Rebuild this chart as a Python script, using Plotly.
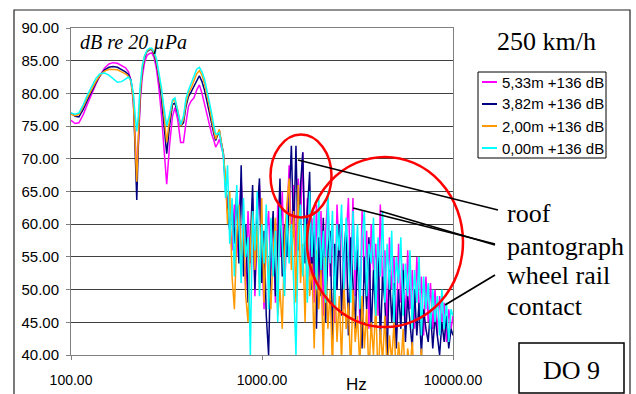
import plotly.graph_objects as go

# ---------------- data ----------------
freq_low = [100, 105, 110, 116, 122, 128, 135, 142, 150, 158,
            166, 175, 184, 193, 200, 206, 212, 217, 221, 225,
            230, 236, 243, 250, 258, 265, 272, 280, 288, 297,
            306, 317, 328, 340, 350, 362, 375, 388, 400, 412,
            425, 440, 455, 470, 485, 500, 515, 530, 545, 560,
            572, 585, 598, 612, 627, 645]

freq_high = [660, 678, 697, 717, 737, 757, 778, 800, 822, 845,
             869, 893, 918, 944, 970, 997, 1025, 1053, 1083, 1113,
             1144, 1176, 1209, 1242, 1277, 1313, 1349, 1387, 1425, 1465,
             1506, 1548, 1591, 1635, 1681, 1728, 1776, 1825, 1876, 1928,
             1982, 2037, 2094, 2153, 2213, 2274, 2338, 2403, 2470, 2539,
             2609, 2682, 2757, 2834, 2913, 2994, 3077, 3163, 3251, 3342,
             3435, 3531, 3629, 3730, 3834, 3941, 4051, 4164, 4280, 4399,
             4522, 4648, 4777, 4910, 5047, 5188, 5332, 5481, 5634, 5791,
             5952, 6118, 6288, 6464, 6644, 6829, 7019, 7215, 7416, 7623,
             7835, 8054, 8278, 8509, 8746, 8990, 9241, 9498, 9763, 10000]

mag_low = [75.9, 75.4, 75.5, 76.8, 78.4, 79.9, 81.4, 82.8, 83.9, 84.5,
           84.7, 84.6, 84.3, 83.9, 83.3, 82.0, 78.5, 73.0, 68.0, 71.5,
           78.5, 82.5, 84.8, 85.8, 86.1, 86.2, 85.5, 83.8, 81.0, 77.0,
           72.0, 66.1, 72.0, 76.5, 77.8, 76.0, 72.5, 72.5, 75.5, 78.0,
           78.8, 79.3, 80.5, 81.3, 80.0, 78.3, 76.5, 75.0, 73.8, 72.8,
           71.8, 72.3, 73.0, 71.8, 70.8, 65.0]
mag_high = [64, 60, 56, 63, 55, 61, 67, 58, 50, 62,
            54, 64, 49, 60, 66, 56, 47, 58, 62, 52,
            60, 48, 63, 55, 65, 50, 61, 69, 57, 66,
            55, 67, 60, 71, 56, 64, 52, 61, 48, 63,
            50, 62, 46, 59, 64, 52, 60, 45, 63, 55,
            61, 47, 58, 64, 50, 64, 49, 58, 45, 62,
            51, 59, 44, 60, 53, 57, 46, 63, 50, 56,
            44, 58, 50, 55, 43, 57, 48, 54, 45, 56,
            47, 53, 44, 55, 46, 52, 43, 52, 45, 51,
            44, 50, 43, 49, 45, 48, 42, 47, 44, 46]

navy_low = [77.0, 76.5, 76.4, 77.6, 79.0, 80.3, 81.6, 82.7, 83.6, 84.0,
            84.1, 84.0, 83.7, 83.3, 82.9, 82.0, 79.5, 72.0, 63.7, 72.0,
            79.5, 83.5, 85.5, 86.4, 86.7, 86.7, 86.0, 84.6, 82.5, 79.5,
            75.5, 70.8, 75.0, 78.3, 78.5, 77.0, 75.0, 75.5, 78.0, 79.5,
            80.2, 81.0, 82.0, 82.7, 81.8, 80.5, 78.8, 77.0, 75.3, 73.8,
            72.8, 73.5, 74.3, 72.5, 71.0, 66.0]
navy_high = [62, 59, 63, 57, 65, 54, 69, 52, 60, 48,
             58, 66, 50, 62, 67, 51, 59, 46, 40, 56,
             62, 49, 57, 67, 52, 60, 55, 64, 72, 58,
             72, 56, 66, 71, 54, 62, 68, 50, 60, 44,
             58, 49, 61, 45, 56, 59, 42, 57, 50, 60,
             46, 55, 60, 43, 58, 51, 44, 56, 49, 41,
             55, 47, 58, 43, 53, 46, 57, 42, 52, 48,
             40, 53, 45, 51, 41, 50, 44, 53, 42, 49,
             45, 41, 50, 43, 48, 40, 47, 44, 42, 47,
             41, 46, 43, 40, 45, 42, 46, 41, 44, 43]

org_low = [76.8, 76.6, 76.8, 78.0, 79.4, 80.6, 81.8, 82.8, 83.4, 83.7,
           83.7, 83.6, 83.3, 83.0, 82.6, 81.8, 79.0, 71.5, 66.5, 73.0,
           79.8, 83.8, 85.7, 86.5, 86.8, 86.8, 86.2, 85.0, 83.0, 80.5,
           77.0, 72.5, 76.0, 78.8, 79.0, 77.5, 75.0, 76.0, 78.5, 80.0,
           80.8, 82.0, 83.0, 83.5, 82.8, 81.5, 79.8, 78.0, 76.0, 74.3,
           73.0, 73.8, 74.5, 72.6, 70.8, 67.0]
org_high = [60, 65, 52, 47, 58, 63, 55, 60, 49, 45,
            57, 62, 53, 60, 50, 64, 48, 58, 52, 47,
            56, 61, 46, 50, 44, 58, 63, 67, 53, 62,
            48, 66, 51, 57, 45, 60, 49, 54, 41, 56,
            47, 53, 40, 55, 44, 50, 38, 52, 42, 49,
            39, 51, 44, 48, 37, 50, 42, 46, 38, 49,
            41, 47, 37, 45, 40, 48, 36, 44, 39, 46,
            37, 43, 39, 45, 36, 42, 38, 44, 35, 41,
            38, 42, 36, 40, 37, 41, 35, 39, 36, 40,
            35, 38, 36, 37, 34, 38, 35, 36, 33, 37]

cyn_low = [77.0, 76.8, 77.0, 78.3, 79.8, 81.0, 82.3, 83.0, 83.1, 82.8,
           82.3, 81.7, 81.8, 82.2, 82.5, 82.0, 80.0, 76.5, 74.2, 76.5,
           81.0, 84.2, 85.8, 86.6, 86.9, 86.9, 86.4, 85.3, 83.5, 81.0,
           78.0, 75.0, 76.8, 79.0, 79.3, 77.5, 75.2, 76.5, 79.2, 80.5,
           81.5, 82.8, 83.7, 84.0, 83.3, 82.2, 80.5, 78.8, 77.0, 75.0,
           73.8, 73.8, 74.0, 72.2, 70.5, 64.0]
cyn_high = [69, 57, 64, 52, 66, 60, 51, 64, 55, 58,
            40, 62, 56, 65, 49, 60, 54, 63, 47, 61,
            52, 59, 45, 63, 57, 49, 62, 54, 60, 51,
            40, 58, 63, 52, 61, 48, 65, 55, 62, 50,
            64, 53, 59, 48, 65, 54, 62, 47, 60, 56,
            63, 50, 61, 55, 48, 62, 53, 60, 47, 58,
            62, 49, 57, 54, 61, 46, 58, 52, 62, 48,
            57, 50, 59, 45, 55, 51, 58, 46, 54, 49,
            56, 44, 53, 48, 55, 43, 52, 47, 51, 44,
            50, 45, 49, 43, 50, 44, 48, 42, 47, 46]

series_names = ["5,33m +136 dB", "3,82m +136 dB", "2,00m +136 dB", "0,00m +136 dB"]
series_colors = ["#FF00FF", "#000080", "#FF9900", "#00FFFF"]
series_values = [mag_low + mag_high, navy_low + navy_high,
                 org_low + org_high, cyn_low + cyn_high]

x_tick_vals = [100, 1000, 10000]
x_tick_labels = ["100.00", "1000.00", "10000.00"]
y_tick_vals = [40, 45, 50, 55, 60, 65, 70, 75, 80, 85, 90]
y_tick_labels = ["40.00", "45.00", "50.00", "55.00", "60.00", "65.00",
                 "70.00", "75.00", "80.00", "85.00", "90.00"]

freq_hz = freq_low + freq_high

# ---------------- layout helpers (pixel -> paper) ----------------
W, H = 636, 394
PL, PR, PT, PB = 71, 453, 28, 355


def px(x):
    return (x - PL) / (PR - PL)


def py(y):
    return (PB - y) / (PB - PT)


fig = go.Figure()
for name, color, vals in zip(series_names, series_colors, series_values):
    fig.add_trace(go.Scatter(x=freq_hz, y=vals, mode="lines", name=name,
                             line=dict(color=color, width=1.5)))

serif = "Liberation Serif, Times New Roman, serif"
sans = "Liberation Sans, Arial, sans-serif"

fig.update_layout(
    width=W, height=H,
    margin=dict(l=PL, r=W - PR, t=PT, b=H - PB, autoexpand=False),
    paper_bgcolor="white", plot_bgcolor="white",
    font=dict(family=sans, color="black", size=14),
    showlegend=False,
)

fig.update_xaxes(type="log", range=[2, 4], tickvals=x_tick_vals, ticktext=x_tick_labels,
                 showgrid=False, zeroline=False, showline=True, linecolor="#808080",
                 linewidth=1, mirror=True, ticks="outside", ticklen=4, tickcolor="#808080",
                 ticklabelstandoff=8, automargin=False,
                 tickfont=dict(family=sans, size=14, color="black"))
fig.update_yaxes(range=[40, 90], tickvals=y_tick_vals, ticktext=y_tick_labels,
                 showgrid=True, gridcolor="#404040", gridwidth=1, zeroline=False,
                 showline=True, linecolor="#808080", linewidth=1, mirror=True,
                 ticks="outside", ticklen=4, tickcolor="#808080",
                 ticklabelstandoff=4, automargin=False,
                 tickfont=dict(family=sans, size=15, color="black"))

shapes = []
annotations = []
# outer chart border
shapes.append(dict(type="rect", xref="paper", yref="paper",
                   x0=px(14), x1=px(630), y0=py(402), y1=py(10),
                   line=dict(color="#222222", width=1.2)))
# legend box (drawn by hand to match the compact Excel legend)
shapes.append(dict(type="rect", xref="paper", yref="paper",
                   x0=px(478), x1=px(606), y0=py(158), y1=py(72),
                   fillcolor="white", line=dict(color="black", width=1)))
for k, (name, color) in enumerate(zip(series_names, series_colors)):
    ry = 82 + 22 * k
    shapes.append(dict(type="line", xref="paper", yref="paper",
                       x0=px(482), x1=px(497), y0=py(ry), y1=py(ry),
                       line=dict(color=color, width=2)))
    annotations.append(dict(text=name, x=px(500), y=py(ry), xanchor="left",
                            yanchor="middle",
                            font=dict(family=sans, size=15, color="black")))
# DO 9 box
shapes.append(dict(type="rect", xref="paper", yref="paper",
                   x0=px(519), x1=px(624), y0=py(393), y1=py(343),
                   line=dict(color="black", width=1.5)))
# red circles
shapes.append(dict(type="circle", xref="paper", yref="paper",
                   x0=px(270.5), x1=px(331.5), y0=py(217.5), y1=py(134.5),
                   line=dict(color="#FF0000", width=2.5)))
shapes.append(dict(type="circle", xref="paper", yref="paper",
                   x0=px(307), x1=px(463), y0=py(327), y1=py(157),
                   line=dict(color="#FF0000", width=2.5)))
# pointer lines
for (x0, y0, x1, y1) in [(298, 160, 498, 210), (353, 208, 495, 244),
                         (380, 211, 495, 245), (445, 305, 495, 275)]:
    shapes.append(dict(type="line", xref="paper", yref="paper",
                       x0=px(x0), y0=py(y0), x1=px(x1), y1=py(y1),
                       line=dict(color="black", width=1.8)))
fig.update_layout(shapes=shapes)

annotations += [
    dict(text="<i>dB re 20 µPa</i>", x=px(78), y=py(43), xanchor="left", yanchor="middle",
         font=dict(family=serif, size=20, color="black")),
    dict(text="250 km/h", x=px(546), y=py(41), xanchor="center", yanchor="middle",
         font=dict(family=serif, size=26, color="black")),
    dict(text="roof", x=px(505), y=py(214), xanchor="left", yanchor="middle",
         font=dict(family=serif, size=26, color="black")),
    dict(text="pantograph", x=px(505), y=py(246), xanchor="left", yanchor="middle",
         font=dict(family=serif, size=26, color="black")),
    dict(text="wheel rail", x=px(505), y=py(275), xanchor="left", yanchor="middle",
         font=dict(family=serif, size=26, color="black")),
    dict(text="contact", x=px(505), y=py(306), xanchor="left", yanchor="middle",
         font=dict(family=serif, size=26, color="black")),
    dict(text="DO 9", x=px(571), y=py(370), xanchor="center", yanchor="middle",
         font=dict(family=serif, size=26, color="black")),
    dict(text="Hz", x=px(356), y=py(385), xanchor="center", yanchor="middle",
         font=dict(family=sans, size=17, color="black")),
]
for a in annotations:
    a["xref"] = "paper"
    a["yref"] = "paper"
    a["showarrow"] = False
fig.update_layout(annotations=annotations)

fig.write_html("out.html", config={"displayModeBar": False},
               post_script="document.body.style.margin='0';")
